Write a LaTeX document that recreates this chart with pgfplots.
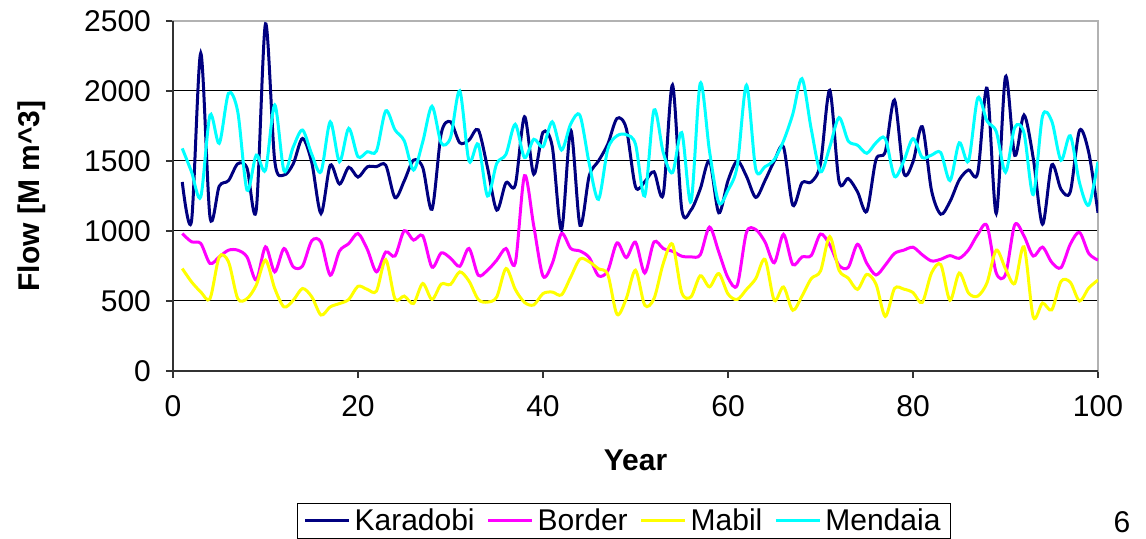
\documentclass[border=0pt]{standalone}
\usepackage{fontspec}
\setmainfont{Liberation Sans}
\usepackage{pgfplots}
\usepackage{pgfplotstable}
\pgfplotsset{compat=1.18}

% Annual flow at the four sites, M m^3
\pgfplotstableread{
year kar bor mab men
1 1350 982 732 1590
2 1070 923 637 1423
3 2270 911 565 1244
4 1100 768 517 1828
5 1320 815 815 1626
6 1360 863 780 1983
7 1480 863 517 1852
8 1450 815 517 1292
9 1150 650 613 1542
10 2480 887 792 1435
11 1500 708 589 1900
12 1400 875 458 1430
13 1480 744 505 1600
14 1661 750 589 1721
15 1490 930 530 1548
16 1125 920 400 1423
17 1470 684 458 1780
18 1335 857 482 1495
19 1455 910 511 1733
20 1385 982 605 1530
21 1458 870 583 1566
22 1460 708 571 1572
23 1470 850 795 1858
24 1238 822 515 1722
25 1358 1002 535 1644
26 1506 935 482 1435
27 1453 966 625 1637
28 1155 742 511 1891
29 1697 843 621 1628
30 1780 806 618 1667
31 1630 748 708 2001
32 1649 875 642 1500
33 1723 684 511 1620
34 1453 720 492 1250
35 1149 792 529 1483
36 1345 875 732 1548
37 1328 770 583 1762
38 1816 1395 490 1524
39 1405 1036 472 1655
40 1705 678 553 1602
41 1604 768 564 1780
42 1006 982 544 1578
43 1720 875 672 1765
44 1040 857 800 1825
45 1395 810 780 1480
46 1500 680 730 1226
47 1620 715 690 1584
48 1804 915 405 1680
49 1733 810 517 1688
50 1316 920 720 1620
51 1352 700 470 1250
52 1423 922 517 1864
53 1262 875 768 1560
54 2043 855 905 1417
55 1155 820 560 1703
56 1150 815 530 1208
57 1300 830 680 2055
58 1500 1028 601 1570
59 1130 850 696 1202
60 1360 666 550 1292
61 1500 613 511 1465
62 1390 990 583 2042
63 1240 1010 660 1441
64 1360 922 797 1459
65 1500 773 505 1510
66 1600 976 600 1643
67 1185 760 434 1834
68 1345 815 535 2088
69 1350 825 660 1727
70 1480 978 714 1423
71 2005 900 960 1600
72 1355 755 720 1810
73 1375 740 663 1643
74 1280 905 583 1613
75 1140 770 690 1555
76 1510 686 620 1630
77 1566 756 390 1660
78 1935 840 589 1390
79 1415 863 585 1500
80 1494 884 560 1660
81 1745 830 490 1525
82 1290 786 700 1542
83 1120 798 760 1560
84 1210 824 505 1360
85 1365 805 700 1630
86 1436 865 557 1500
87 1415 976 535 1950
88 2020 1038 630 1785
89 1125 700 863 1710
90 2102 690 730 1420
91 1540 1044 625 1740
92 1828 964 887 1700
93 1520 821 386 1260
94 1048 885 485 1820
95 1472 776 437 1785
96 1298 738 640 1505
97 1280 905 634 1680
98 1718 990 500 1345
99 1560 840 593 1185
100 1130 792 649 1495
}\flows

\definecolor{karadobi}{RGB}{0,0,128}
\definecolor{border}{RGB}{255,0,255}
\definecolor{mabil}{RGB}{255,255,0}
\definecolor{mendaia}{RGB}{0,255,255}

\begin{document}
\begin{tikzpicture}
\useasboundingbox (0,0) rectangle (573pt,269.5pt);
\begin{axis}[
  at={(86.5pt,84pt)}, anchor=south west,
  scale only axis, width=462.5pt, height=175pt,
  xmin=0, xmax=100, ymin=0, ymax=2500,
  xtick={0,20,...,100}, ytick={0,500,...,2500},
  tick align=outside, major tick length=3.5pt,
  xtick pos=bottom, ytick pos=left,
  tick style={black!80, line width=0.6pt},
  ymajorgrids, grid style={black, line width=0.5pt},
  axis line style={gray!60, line width=1pt},
  /pgf/number format/assume math mode=true,
  /pgf/number format/1000 sep={},
  tick label style={font=\fontsize{15}{18}\selectfont},
  xticklabel style={yshift=-5pt},
  yticklabel style={xshift=-4pt},
  xlabel={Year}, ylabel={Flow [M m\textasciicircum 3]},
  label style={font=\fontsize{15}{18}\selectfont\bfseries},
  xlabel style={at={(axis description cs:0.5,-0.254)}, anchor=center},
  ylabel style={at={(axis description cs:-0.1524,0.5)}, anchor=center},
  legend columns=4,
  legend style={at={(0.4876,-0.377)}, anchor=north, draw=black,
    line width=0.6pt, font=\fontsize{15}{18}\selectfont,
    inner xsep=3pt, inner ysep=0.5pt,
    nodes={inner ysep=2pt},
    /tikz/every even column/.append style={column sep=4pt}},
  legend image code/.code={\draw[#1, line width=1.5pt] (0pt,0pt) -- (22pt,0pt);},
  every axis plot/.append style={line width=1.5pt, smooth, tension=0.5},
  after end axis/.code={
    \draw[black!80, line width=1pt] (rel axis cs:0,1) -- (rel axis cs:0,0) -- (rel axis cs:1,0);
  },
]
\addplot[karadobi] table[x=year, y=kar] {\flows};
\addplot[border] table[x=year, y=bor] {\flows};
\addplot[mabil] table[x=year, y=mab] {\flows};
\addplot[mendaia] table[x=year, y=men] {\flows};
\legend{Karadobi, Border, Mabil, Mendaia}
\end{axis}
\node[anchor=north, inner sep=0pt, font=\fontsize{15}{18}\selectfont] at (561pt,14pt) {6};
\end{tikzpicture}
\end{document}
